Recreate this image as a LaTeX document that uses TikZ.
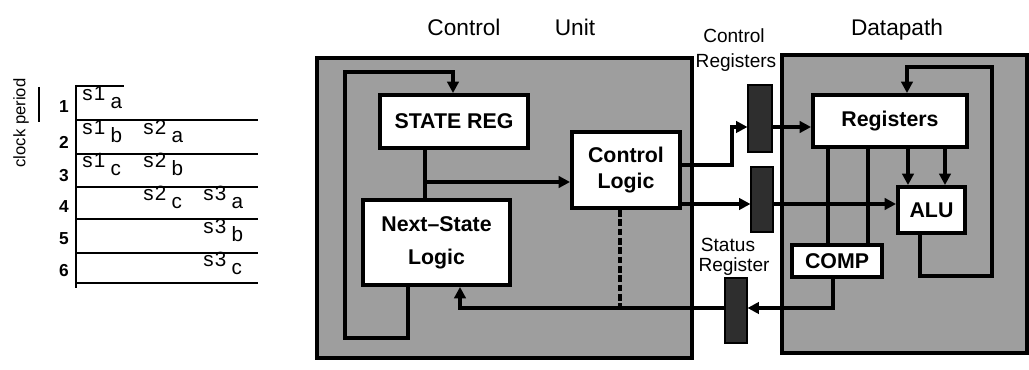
\documentclass[tikz,border=0pt]{standalone}
\usepackage{fontspec}
\setmainfont{Liberation Sans}
\usetikzlibrary{arrows.meta}
\newcommand{\lowered}[1]{\hspace{4pt}\raisebox{-5.5pt}{#1}}
\begin{document}
\begin{tikzpicture}[x=0.75pt,y=-0.75pt,
  region/.style={draw, line width=2.3pt, fill=black!38, inner sep=0pt},
  blk/.style={draw, line width=2.9pt, fill=white, inner sep=0pt, align=center,
    font=\bfseries\fontsize{16}{20}\selectfont},
  bar/.style={draw=black, fill=black!82, line width=0.8pt, inner sep=0pt},
  wire/.style={line width=2.5pt},
  arr/.style={-{Triangle[length=8.5pt,width=8.5pt]}},
  tline/.style={line width=1.9pt},
  ttl/.style={font=\fontsize{17}{19}\selectfont},
  lbl/.style={font=\fontsize{14.3}{16}\selectfont},
  entry/.style={anchor=base west, inner sep=0pt,
    font=\fontsize{15.5}{17}\selectfont\addfontfeature{LetterSpace=6}},
  rownum/.style={anchor=base, inner sep=0pt, font=\bfseries\fontsize{13}{15}\selectfont}]
\useasboundingbox (0,0) rectangle (1029,370);

% ---------- timing table ----------
\node[rotate=90, font=\fontsize{12.5}{14}\selectfont] (cp) at (21,123) {clock period};
\draw[tline] (39,87) -- (39,122);
\draw[tline] (76,85) -- (76,288);
\draw[tline] (76,86) -- (124,86);
\foreach \y in {120,154,187,219,253,283}
  \draw[tline] (76,\y) -- (258,\y);
\foreach \n/\y in {1/113,2/149,3/182,4/213,5/245,6/277}
  \node[rownum] (r\n) at (64,\y) {\n};
\node[entry] (e1a) at (82,101) {s1\lowered{a}};
\node[entry] (e1b) at (82,135) {s1\lowered{b}};
\node[entry] (e2a) at (143,135) {s2\lowered{a}};
\node[entry] (e1c) at (82,168) {s1\lowered{c}};
\node[entry] (e2b) at (143,168) {s2\lowered{b}};
\node[entry] (e2c) at (143,201) {s2\lowered{c}};
\node[entry] (e3a) at (203,201) {s3\lowered{a}};
\node[entry] (e3b) at (203,234) {s3\lowered{b}};
\node[entry] (e3c) at (203,267) {s3\lowered{c}};

% ---------- titles ----------
\node[ttl] (t1) at (464,27) {Control};
\node[ttl] (t2) at (575,27) {Unit};
\node[ttl] (t3) at (897,30) {Datapath};
\node[lbl] (l1) at (734,36) {Control};
\node[lbl] (l2) at (736,63) {Registers};
\node[lbl] (l3) at (728,245) {Status};
\node[lbl] (l4) at (734,267) {Register};

% ---------- shaded regions ----------
\node[region, minimum width=281.25pt, minimum height=225pt] (cu) at (504.5,208) {};
\node[region, minimum width=183.75pt, minimum height=223.5pt] (dp) at (904.5,204) {};

% ---------- blocks ----------
\node[blk, minimum width=111pt, minimum height=39.75pt] (sr) at (454,121.5) {STATE REG};
\node[blk, minimum width=81pt, minimum height=57pt] (cl) at (626,170) {Control\\Logic};
\node[blk, minimum width=110.25pt, minimum height=63.75pt,
  font=\bfseries\fontsize{16}{25}\selectfont] (ns) at (436.5,242.5) {Next–State\\Logic};
\node[blk, minimum width=115.5pt, minimum height=39pt] (rg) at (890,121) {Registers};
\node[blk, minimum width=50.25pt, minimum height=34.5pt] (alu) at (931.5,210) {ALU};
\node[blk, minimum width=67.5pt, minimum height=24pt] (cmp) at (837,261) {COMP};

% ---------- pipeline registers ----------
\node[bar, minimum width=18pt, minimum height=50.25pt] (cr1) at (760,118.5) {};
\node[bar, minimum width=16.5pt, minimum height=48.75pt] (cr2) at (762,199.5) {};
\node[bar, minimum width=16.5pt, minimum height=48.75pt] (st) at (736,310.5) {};

% ---------- routing points ----------
\coordinate (p1) at (408,338);
\coordinate (p2) at (345,338);
\coordinate (p3) at (345,72);
\coordinate (p4) at (453,72);
\coordinate (j) at (425,182);
\coordinate (d) at (620,308);
\coordinate (s1) at (833,308);
\coordinate (s2) at (460,308);
\coordinate (k1) at (732,165);
\coordinate (k2) at (732,127);
\coordinate (k3) at (700,204);
\coordinate (a1) at (908,0);
\coordinate (a2) at (945,0);
\coordinate (b1) at (828,0);
\coordinate (b2) at (868,0);
\coordinate (q1) at (920,276);
\coordinate (q2) at (992,276);
\coordinate (q3) at (992,67);
\coordinate (q4) at (907,67);

% ---------- control unit wiring ----------
\draw[wire, arr] (ns.south -| p1) -- (p1) -- (p2) -- (p3) -- (p4) -- (sr.north -| p4);
\draw[wire] (sr.south -| j) -- (ns.north -| j);
\draw[wire, arr] (j) -- (cl.west |- j);
\draw[wire, dash pattern=on 5pt off 2pt] (cl.south -| d) -- (d);
\draw[wire, arr] (st.west |- s2) -- (s2) -- (ns.south -| s2);

% ---------- control outputs ----------
\draw[wire, arr] (cl.east |- k1) -- (k1) -- (k2) -- (cr1.west |- k2);
\draw[wire, arr] (cr1.east |- k2) -- (rg.west |- k2);
\draw[wire, arr] (cl.east |- k3) -- (cr2.west |- k3);
\draw[wire, arr] (cr2.east |- k3) -- (alu.west |- k3);

% ---------- datapath wiring ----------
\draw[wire, arr] (rg.south -| a1) -- (alu.north -| a1);
\draw[wire, arr] (rg.south -| a2) -- (alu.north -| a2);
\draw[wire] (rg.south -| b1) -- (cmp.north -| b1);
\draw[wire] (rg.south -| b2) -- (cmp.north -| b2);
\draw[wire, arr] (alu.south -| q1) -- (q1) -- (q2) -- (q3) -- (q4) -- (rg.north -| q4);
\draw[wire, arr] (cmp.south -| s1) -- (s1) -- (st.east |- s1);
\end{tikzpicture}
\end{document}
